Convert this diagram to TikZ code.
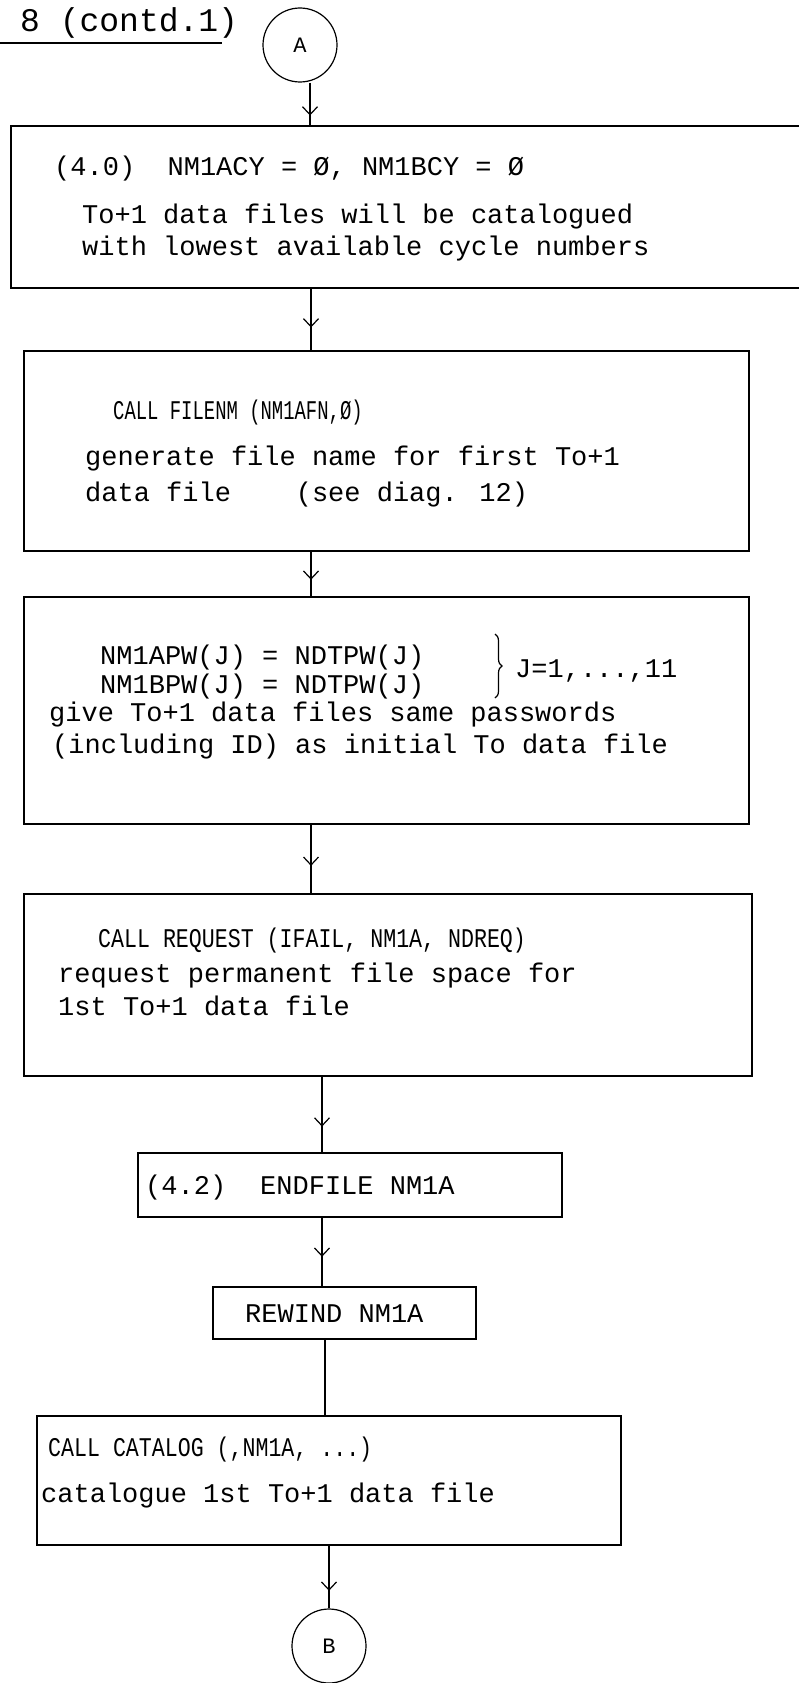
\documentclass[tikz,border=0pt]{standalone}
\usepackage{fontspec}
\setmainfont{Liberation Mono}
\newfontfamily\narrowtt[FakeStretch=0.8]{Liberation Mono}
\newfontfamily\slimtt[FakeStretch=0.7]{Liberation Mono}
\usetikzlibrary{arrows.meta,decorations.markings,decorations.pathreplacing}

\begin{document}
\begin{tikzpicture}[x=1pt, y=-1pt,
  blk/.style={rectangle, draw, line width=1.2pt, inner sep=0pt},
  con/.style={circle, draw, line width=1.2pt, minimum size=74, inner sep=0pt, font=\fontsize{22}{22}\selectfont},
  tx/.style={anchor=base west, inner sep=0pt, font=\fontsize{27}{32}\selectfont},
  txn/.style={tx, font=\narrowtt\fontsize{27}{32}\selectfont},
  ln/.style={line width=1.2pt, postaction={decorate}, decoration={markings, mark=at position #1 with {\arrow{Straight Barb[length=8pt, width=15pt, line width=1.2pt]}}}},
  ln/.default=0.6
]
  \useasboundingbox (0,0) rectangle (798,1683);
  % heading
  \node[tx, font=\fontsize{33}{33}\selectfont] (title) at (20,32) {8 (contd.1)};
  \draw[line width=1.2pt] (0,43) -- (222,43);

  \node[con] (A) at (300,45) {A};

  % boxes
  \node[blk, minimum width=809, minimum height=162] (init) at (415.5,207) {};
  \node[blk, minimum width=725, minimum height=200] (filenm) at (386.5,451) {};
  \node[blk, minimum width=725, minimum height=227] (passw) at (386.5,710.5) {};
  \node[blk, minimum width=728, minimum height=182] (req) at (388,985) {};
  \node[blk, minimum width=424, minimum height=64] (endf) at (350,1185) {};
  \node[blk, minimum width=263, minimum height=52] (rew) at (344.5,1313) {};
  \node[blk, minimum width=584, minimum height=129] (catal) at (329,1480.5) {};

  \node[con] (B) at (329,1646) {B};

  % box texts
  \node[tx] (t40) at (54,175) {(4.0)\ \ NM1ACY = Ø, NM1BCY = Ø};
  \node[tx] (t41) at (82,223) {To+1 data files will be catalogued};
  \node[tx] (t42) at (82,255) {with lowest available cycle numbers};

  \node[tx, font=\slimtt\fontsize{27}{32}\selectfont] (t50) at (113,419) {CALL FILENM (NM1AFN,Ø)};
  \node[tx] (t51) at (85,465) {generate file name for first To+1};
  \node[tx] (t52) at (85,501) {data file\ \ \ \ (see diag. 12)};

  \node[tx] (eqa) at (100,664) {NM1APW(J) = NDTPW(J)};
  \node[tx] (eqb) at (100,693) {NM1BPW(J) = NDTPW(J)};
  \draw[decorate, decoration={brace, amplitude=7pt}, line width=1.2pt] (495,634) -- (495,698);
  \node[tx] (jrange) at (515,677) {J=1,...,11};
  \node[tx] (t61) at (49,721) {give To+1 data files same passwords};
  \node[tx] (t62) at (52,753) {(including ID) as initial To data file};

  \node[txn] (t70) at (98,947) {CALL REQUEST (IFAIL, NM1A, NDREQ)};
  \node[tx] (t71) at (58,982) {request permanent file space for};
  \node[tx] (t72) at (58,1015) {1st To+1 data file};

  \node[tx] (t80) at (145,1194) {(4.2)};
  \node[tx] (t81) at (260,1194) {ENDFILE NM1A};
  \node[tx] (t90) at (245,1322) {REWIND NM1A};

  \node[txn] (t100) at (48,1456) {CALL CATALOG (,NM1A, ...)};
  \node[tx] (t101) at (41,1502) {catalogue 1st To+1 data file};

  % flow lines
  \draw[ln=0.77] (A.south -| 310,0) -- (init.north -| 310,0);
  \draw[ln=0.63] (init.south -| 311,0) -- (filenm.north -| 311,0);
  \draw[ln=0.63] (filenm.south -| 311,0) -- (passw.north -| 311,0);
  \draw[ln=0.6] (passw.south -| 311,0) -- (req.north -| 311,0);
  \draw[ln=0.66] (req.south -| 322,0) -- (endf.north -| 322,0);
  \draw[ln=0.57] (endf.south -| 322,0) -- (rew.north -| 322,0);
  \draw[line width=1.2pt] (rew.south -| 325,0) -- (catal.north -| 325,0);
  \draw[ln=0.72] (catal.south -| 329,0) -- (B);
\end{tikzpicture}
\end{document}
